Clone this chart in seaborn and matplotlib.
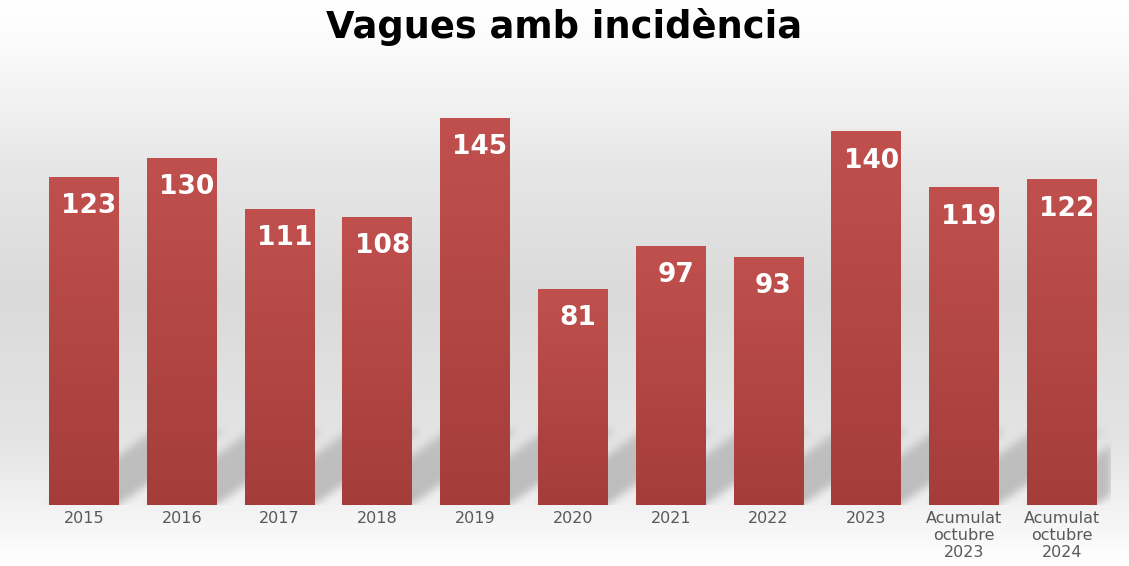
import numpy as np
import pandas as pd
import matplotlib
matplotlib.use("Agg")
import matplotlib.pyplot as plt
import seaborn as sns
from matplotlib.colors import LinearSegmentedColormap

categories = ["2015", "2016", "2017", "2018", "2019", "2020", "2021", "2022", "2023",
              "Acumulat\noctubre\n2023", "Acumulat\noctubre\n2024"]
values = [123, 130, 111, 108, 145, 81, 97, 93, 140, 119, 122]
title = "Vagues amb incidència"

df = pd.DataFrame({"periode": categories, "vagues": values})

sns.set_style("white")
plt.rcParams['font.family'] = ['DejaVu Sans']

fig = plt.figure(figsize=(11.29, 5.66), dpi=100)

# background gradient over whole figure
bg = fig.add_axes([0, 0, 1, 1], zorder=0)
bg_cmap = LinearSegmentedColormap.from_list(
    "bg", [(0, "#ffffff"), (0.08, "#fbfbfb"), (0.3, "#e6e6e6"), (0.52, "#dadada"),
           (0.78, "#e4e4e4"), (0.92, "#f5f5f5"), (1, "#ffffff")])
bg.imshow(np.linspace(0, 1, 256).reshape(-1, 1), aspect="auto", cmap=bg_cmap,
          extent=[0, 1, 0, 1])
bg.axis("off")

ax = fig.add_axes([0.031, 0.1078, 0.953, 0.802], zorder=1)
ax.patch.set_alpha(0)

sns.barplot(data=df, x="periode", y="vagues", color="#b44744", width=0.714, ax=ax,
            saturation=1, linewidth=0)

xlo, xhi = -0.5, len(categories) - 0.5
ylo, yhi = 0, 170
ax.set_xlim(xlo, xhi)
ax.set_ylim(ylo, yhi)

# blurred perspective shadows behind the bars
shadow_h = 28.0
shadow_dx = 1.08
sh_top = 36.0
nx, ny = 1076, int(round(sh_top / yhi * 454))
gx = np.linspace(xlo, xhi, nx)
gy = np.linspace(0, sh_top, ny)
X, Y = np.meshgrid(gx, gy)
mask = np.zeros_like(X)
for p in ax.patches:
    x0 = p.get_x()
    w = p.get_width()
    shift = Y / shadow_h * shadow_dx
    inside = (Y <= shadow_h) & (X >= x0 + shift) & (X <= x0 + w + shift)
    fade = 1 - 0.3 * (Y / shadow_h)
    mask = np.maximum(mask, inside * fade)

def blur(a, sigma):
    r = int(3 * sigma)
    k = np.exp(-0.5 * (np.arange(-r, r + 1) / sigma) ** 2)
    k /= k.sum()
    a = np.apply_along_axis(lambda v: np.convolve(v, k, mode="same"), 1, a)
    a = np.apply_along_axis(lambda v: np.convolve(v, k, mode="same"), 0, a)
    return a

mask = blur(np.pad(mask, ((0, 12), (0, 0))), 4.0)[:ny]
rgba = np.zeros((ny, nx, 4))
rgba[..., :3] = 0.25
rgba[..., 3] = mask * 0.3
ax.imshow(rgba, aspect="auto", extent=[xlo, xhi, 0, sh_top], origin="lower",
          zorder=0.5, interpolation="bilinear")

# gradient fill and value labels for each bar
bar_cmap = LinearSegmentedColormap.from_list("bar", ["#a43d3a", "#c0504d"])
for p in ax.patches:
    x0 = p.get_x()
    w = p.get_width()
    h = p.get_height()
    p.set_zorder(2)
    grad = ax.imshow(np.linspace(0, 1, 256).reshape(-1, 1), aspect="auto",
                     cmap=bar_cmap, extent=[x0, x0 + w, 0, h], origin="lower",
                     zorder=2.5)
    grad.set_clip_path(p)
    ax.text(x0 + w / 2 + 0.05, h - 11, f"{int(h)}", ha="center", va="center",
            color="white", fontsize=19, fontweight="bold", zorder=3)

ax.set_xlim(xlo, xhi)
ax.set_ylim(ylo, yhi)
ax.set_xlabel("")
ax.set_ylabel("")
ax.set_yticks([])
ax.tick_params(axis="x", length=0, labelsize=11.5, labelcolor="#595959", pad=4)
sns.despine(ax=ax, left=True, bottom=True, top=True, right=True)

fig.text(0.5, 0.952, title, ha="center", va="center", fontsize=26.5,
         fontweight="bold", color="black")

fig.savefig("out.png", dpi=100)
